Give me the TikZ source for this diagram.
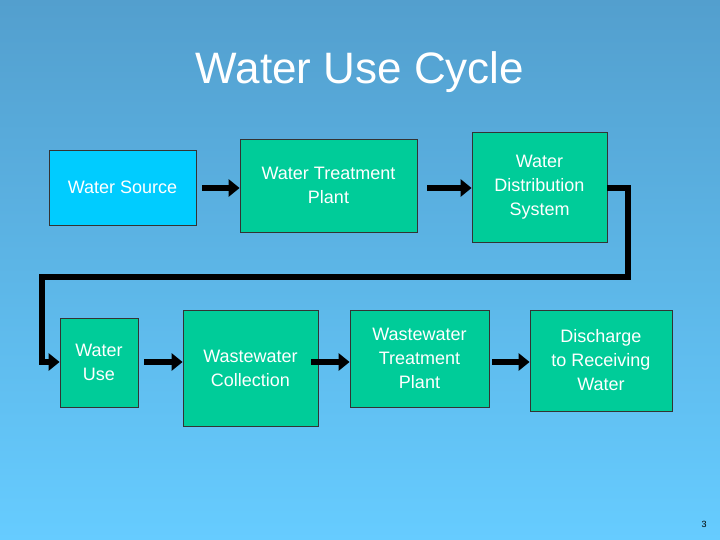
\documentclass[tikz,border=0pt]{standalone}
\usepackage{fontspec}
\setmainfont{Liberation Sans}
\usetikzlibrary{arrows.meta}
\definecolor{bgtop}{HTML}{539FCE}
\definecolor{bgbot}{HTML}{66CCFF}
\definecolor{boxg}{HTML}{00CC99}
\definecolor{boxb}{HTML}{00CCFF}
\begin{document}
\begin{tikzpicture}[x=1pt,y=-1pt,
  box/.style={draw=black!80,line width=0.8pt,fill=boxg,text=white,align=center,inner sep=0pt,font=\fontsize{18}{24}\selectfont},
  arr/.style={line width=5.5pt,line join=miter,-{Triangle[length=11pt,width=17pt]}}]
\shade[top color=bgtop,bottom color=bgbot] (0,0) rectangle (720,540);
\useasboundingbox (0,0) rectangle (720,540);
\node[text=white,font=\fontsize{44}{50}\selectfont] (title) at (360,72) {Water Use Cycle};
\node[box,fill=boxb,minimum width=147,minimum height=75] (src) at (122.5,187.5) {Water Source};
\node[box,minimum width=177,minimum height=93] (wtp) at (328.5,185.5) {Water Treatment\\Plant};
\node[box,minimum width=135,minimum height=110] (wds) at (539.5,187) {Water\\Distribution\\System};
\node[box,minimum width=78,minimum height=89] (use) at (99,362.5) {Water\\Use};
\node[box,minimum width=135,minimum height=116] (col) at (250.5,368) {Wastewater\\Collection};
\node[box,minimum width=139,minimum height=97] (wwtp) at (419.5,358.5) {Wastewater\\Treatment\\Plant};
\node[box,minimum width=142,minimum height=101] (dis) at (601,360.5) {Discharge\\to Receiving\\Water};
\node[font=\fontsize{9}{10}\selectfont] (pg) at (704,524) {3};
\coordinate (c1) at (628,188);
\coordinate (c2) at (628,277);
\coordinate (c3) at (42,277);
\coordinate (c4) at (42,362);
\coordinate (b) at (0,362);
\coordinate (t) at (0,188);
\draw[arr] (src.east |- t) ++(6,0) -- (wtp.west |- t);
\draw[arr] (wtp.east |- t) ++(10,0) -- (wds.west |- t);
\draw[arr] (wds.east |- t) -- (c1) -- (c2) -- (c3) -- (c4) -- (use.west |- b);
\draw[arr] (use.east |- b) ++(6,0) -- (col.west |- b);
\draw[arr] (col.east |- b) ++(-7,0) -- (wwtp.west |- b);
\draw[arr] (wwtp.east |- b) ++(3,0) -- (dis.west |- b);
\end{tikzpicture}
\end{document}
